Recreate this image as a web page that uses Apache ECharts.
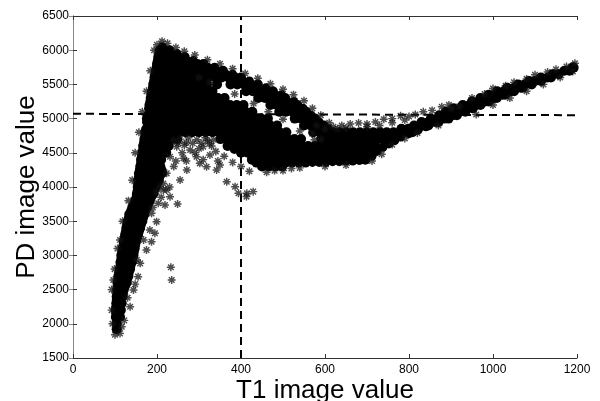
<!DOCTYPE html>
<html>
<head>
<meta charset="utf-8">
<script src="https://cdn.jsdelivr.net/npm/echarts@6/dist/echarts.min.js"></script>
<style>
  html, body { margin: 0; padding: 0; background: #fff; }
  #chart { width: 600px; height: 401px; }
</style>
</head>
<body>
<div id="chart"></div>
<script>
// axis ticks
const xTicks = [0, 200, 400, 600, 800, 1000, 1200];
const yTicks = [1500, 2000, 2500, 3000, 3500, 4000, 4500, 5000, 5500, 6000, 6500];

// dashed threshold lines
const dashV = [[400, 1500], [400, 6500]];
const dashH = [[0, 5070], [1200, 5050]];

// dense core of the rising arm (T1 < 230)
const armPts = [
  [104,1920],[104,2000],[102,2100],[112,2100],[102,2200],[114,2200],
  [103,2300],[116,2300],[104,2400],[118,2400],[105,2500],[121,2500],
  [106,2600],[118,2600],[128,2600],[108,2700],[120,2700],[132,2700],
  [111,2800],[124,2800],[136,2800],[113,2900],[126,2900],[140,2900],
  [115,3000],[128,3000],[144,3000],[118,3100],[132,3100],[147,3100],
  [121,3200],[135,3200],[150,3200],[124,3300],[139,3300],[155,3300],
  [127,3400],[142,3400],[160,3400],[130,3500],[146,3500],[165,3500],
  [134,3600],[150,3600],[170,3600],[141,3700],[157,3700],[176,3700],
  [148,3800],[165,3800],[183,3800],[152,3900],[166,3900],[180,3900],[191,3900],
  [154,4000],[168,4000],[183,4000],[197,4000],
  [155,4100],[170,4100],[186,4100],[204,4100],
  [157,4200],[172,4200],[188,4200],[204,4200],[212,4200]
];

// dense mass between arm, upper band and lower band
const massPts = [
  [160,4300],[176,4300],[192,4300],[208,4300],[450,4300],[466,4300],[482,4300],[498,4300],
  [162,4400],[178,4400],[194,4400],[210,4400],
  [426,4400],[442,4400],[458,4400],[474,4400],[490,4400],[506,4400],[522,4400],[538,4400],
  [554,4400],[570,4400],[586,4400],[602,4400],[618,4400],[634,4400],[650,4400],[666,4400],
  [682,4400],[696,4400],
  [165,4500],[181,4500],[197,4500],[213,4500],[222,4500],
  [400,4500],[416,4500],[432,4500],[448,4500],[464,4500],[480,4500],[496,4500],[512,4500],
  [528,4500],[544,4500],[560,4500],[576,4500],[592,4500],[608,4500],[624,4500],[640,4500],
  [656,4500],[672,4500],[688,4500],[704,4500],
  [167,4600],[183,4600],[199,4600],[215,4600],[228,4600],
  [368,4600],[384,4600],[400,4600],[416,4600],[432,4600],[448,4600],[464,4600],[480,4600],
  [496,4600],[512,4600],[528,4600],[544,4600],[560,4600],[576,4600],[592,4600],[608,4600],
  [624,4600],[640,4600],[656,4600],[672,4600],[688,4600],[704,4600],[720,4600],
  [170,4700],[186,4700],[202,4700],[218,4700],[234,4700],[248,4700],
  [351,4700],[367,4700],[383,4700],[399,4700],[415,4700],[431,4700],[447,4700],[463,4700],
  [479,4700],[495,4700],[511,4700],[527,4700],[543,4700],[591,4700],[607,4700],[623,4700],
  [639,4700],[655,4700],[671,4700],[687,4700],[703,4700],[719,4700],[735,4700],[751,4700],
  [765,4700],
  [172,4800],[188,4800],[204,4800],[220,4800],[236,4800],[252,4800],[268,4800],[284,4800],
  [300,4800],[316,4800],[332,4800],[348,4800],[364,4800],[380,4800],[396,4800],[412,4800],
  [428,4800],[444,4800],[460,4800],[476,4800],[492,4800],[508,4800],
  [572,4800],[588,4800],[604,4800],[620,4800],[635,4800],[651,4800],[667,4800],[683,4800],
  [699,4800],[715,4800],[731,4800],[747,4800],[763,4800],[779,4800],[795,4800],[808,4800],
  [182,4900],[198,4900],[214,4900],[230,4900],[246,4900],[262,4900],[278,4900],[294,4900],
  [310,4900],[326,4900],[342,4900],[358,4900],[374,4900],[390,4900],[406,4900],[422,4900],
  [438,4900],[454,4900],[470,4900],[486,4900],[550,4900],[566,4900],[582,4900],[597,4900],
  [176,5000],[192,5000],[208,5000],[224,5000],[240,5000],[256,5000],[272,5000],[288,5000],
  [304,5000],[320,5000],[336,5000],[352,5000],[368,5000],[384,5000],[400,5000],[416,5000],
  [432,5000],[448,5000],[464,5000],[528,5000],[544,5000],[560,5000],[576,5000],
  [187,5100],[203,5100],[219,5100],[235,5100],[251,5100],[267,5100],[283,5100],[299,5100],
  [315,5100],[331,5100],[347,5100],[363,5100],[379,5100],[395,5100],[411,5100],[427,5100],
  [491,5100],[507,5100],[523,5100],[539,5100],[555,5100],
  [182,5200],[198,5200],[214,5200],[230,5200],[246,5200],[262,5200],[278,5200],[294,5200],
  [310,5200],[326,5200],[342,5200],[358,5200],[374,5200],[390,5200],[406,5200],
  [470,5200],[486,5200],[502,5200],[518,5200],[534,5200],
  [185,5300],[201,5300],[217,5300],[233,5300],[249,5300],[265,5300],[281,5300],[297,5300],
  [313,5300],[329,5300],[345,5300],[361,5300],[441,5300],[457,5300],[473,5300],[489,5300],
  [505,5300],
  [188,5400],[204,5400],[220,5400],[236,5400],[252,5400],[268,5400],[284,5400],[300,5400],
  [316,5400],[332,5400],[412,5400],[428,5400],[444,5400],[460,5400],[476,5400],
  [191,5500],[207,5500],[223,5500],[239,5500],[255,5500],[271,5500],[287,5500],[303,5500],
  [319,5500],[343,5500],[375,5500],[391,5500],[407,5500],[423,5500],[440,5500],
  [194,5600],[210,5600],[226,5600],[242,5600],[258,5600],[274,5600],[290,5600],[306,5600],
  [322,5600],[338,5600],[354,5600],[370,5600],[386,5600],[400,5600],
  [197,5700],[213,5700],[229,5700],[245,5700],[261,5700],[277,5700],[293,5700],[309,5700],
  [325,5700],[341,5700],[357,5700],
  [200,5800],[216,5800],[232,5800],[248,5800],[264,5800],[280,5800],[296,5800],[311,5800],
  [203,5900],[219,5900],[235,5900],[251,5900],[266,5900],
  [206,6000],[218,6000],[230,6000]
];

// rising right band (T1 > 700)
const bandPts = [
  [782,4850],[798,4850],[814,4850],[822,4850],
  [812,4900],[828,4900],[846,4900],
  [830,4950],[846,4950],[862,4950],[870,4950],
  [852,5000],[868,5000],[884,5000],[894,5000],
  [872,5050],[888,5050],[904,5050],[914,5050],
  [888,5100],[904,5100],[920,5100],[934,5100],
  [906,5150],[922,5150],[938,5150],[952,5150],
  [928,5200],[944,5200],[960,5200],[970,5200],
  [950,5250],[966,5250],[982,5250],[990,5250],
  [970,5300],[986,5300],[1002,5300],[1009,5300],
  [990,5350],[1006,5350],[1022,5350],[1029,5350],
  [1010,5400],[1026,5400],[1042,5400],[1050,5400],
  [1034,5450],[1050,5450],[1066,5450],[1071,5450],
  [1060,5500],[1076,5500],[1092,5500],
  [1086,5550],[1100,5550],[1114,5550],
  [1114,5600],[1130,5600],[1138,5600],
  [1142,5650],[1156,5650],
  [1170,5700],[1182,5700],[1190,5750],[1192,5745]
];

// extra dense points smoothing the outlines (half-row steps)
const upperEdge = [
  [213,6050],[248,5950],[232,5950],[286,5850],[270,5850],[337,5750],[321,5750],
  [380,5650],[364,5650],[420,5550],[404,5550],[459,5450],[443,5450],[496,5350],[480,5350],
  [526,5250],[510,5250],[548,5150],[532,5150],[567,5050],[551,5050],[586,4950],[570,4950],
  [608,4850],[592,4850]
];
const leftEdge = [
  [104,2050],[102,2150],[102,2250],[103,2350],[104,2450],[105,2550],[107,2650],[109,2750],
  [112,2850],[114,2950],[116,3050],[119,3150],[122,3250],[125,3350],[128,3450],[132,3550],
  [137,3650],[144,3750],[150,3850],[153,3950],[154,4050],[156,4150],[158,4250],[161,4350],
  [163,4450],[166,4550],[168,4650],[171,4750],[173,4850],[175,4950],[177,5050],[180,5150],
  [183,5250],[186,5350],[189,5450],[192,5550],[195,5650],[198,5750],[201,5850],[204,5950]
];
const armRightEdge = [
  [108,2150],[112,2250],[116,2350],[120,2450],[125,2550],[130,2650],[134,2750],[138,2850],
  [142,2950],[146,3050],[149,3150],[153,3250],[158,3350],[163,3450],[168,3550],[173,3650],
  [180,3750],[187,3850],[194,3950],[200,4050],[207,4150],[212,4250]
];
const lowerEdge = [
  [436,4350],[506,4350],[522,4350],[538,4350],[554,4350],[570,4360],[586,4360],[602,4360],
  [618,4370],[634,4370],[650,4380],[666,4380],[682,4390],[384,4550],
  [712,4450],[724,4520],[738,4580],[752,4630],[766,4680],[780,4730],[800,4780],[820,4830],
  [840,4880]
];

// loose points around the dense regions
const armFringe = [
  [100,1840],[112,1860],[116,1958],[122,2050],[136,2250],[130,2380],[144,2494],[148,2580],
  [155,2689],[160,2884],[152,2933],[175,3079],[168,3225],[187,3200],[195,3323],[183,3371],
  [199,3493],[187,3615],[203,3762],[219,3737],[199,3932],[223,3956],[112,3225],[96,2640],
  [92,2200],[94,2000],[190,3700],[210,3850],[215,4050],[230,4000],
  [92,2500],[99,2800],[106,3100],[118,3500],[132,3800],[141,4100]
];
const strayPts = [
  [249,3751],[233,2826],[235,2640],[366,4077],[386,4005],[394,3908],[414,3908],[429,3932],
  [413,3860],[231,4443],[263,4420],[294,4443],[318,4297],[350,4322],[326,4468],[310,4590],
  [279,4541],[247,4590],[223,4200],[207,4005],[231,3858],[215,3956],[255,4102],[342,4249],
  [302,4346],[271,4249],[240,4300],[260,4500],[285,4640],[330,4600],[360,4450],[380,4360],
  [400,4300],[420,4230],[300,4560],[240,4680],[270,4650],[320,4680],[345,4380],
  [461,4215],[480,4240],[520,4270],
  [255,4700],[275,4720],[295,4690],[315,4720],[335,4690],[305,4640],[265,4610],[250,4640],
  [325,4640],[290,4500],[340,4520],[310,4400],[270,4380],[245,4380]
];
const edgePts = [
  [212,6130],[225,6100],[245,6040],[265,5985],[290,5930],[320,5860],[350,5800],[380,5730],
  [410,5660],[440,5590],[470,5510],[500,5430],[525,5350],[550,5260],[570,5150],[590,5050],
  [610,4940],[630,4850],
  [148,4500],[157,4800],[165,5100],[175,5400],[184,5700],[193,6000],[200,6080]
];
const gapPts = [
  [300,5600],[325,5530],[385,5360],[430,5220],[465,5100],[500,4990],[540,4820],[575,4690]
];
const cloudPts = [
  [600,4850],[620,4880],[640,4900],[660,4920],[680,4935],[700,4920],[720,4950],[740,4990],
  [760,5000],[780,5040],[800,5030],[815,5060],[834,5101],[855,5120],[878,5174],[895,5200],
  [650,4860],[700,4880],[730,4900],[580,4900],[590,4700],[570,4780],[760,4940],[790,4980],
  [950,5300],[980,5360],[1000,5440],[1030,5480],[1050,5530],[1080,5580],[1100,5640],
  [1130,5680],[1150,5720],[1175,5760],[1195,5810],[960,5060],[1000,5200],[1040,5300],
  [1080,5400],[1120,5500],[1160,5600],[1190,5690],[900,5150],[920,5180],[870,4900],
  [820,4790],[790,4710],[760,4620],[735,4480],[712,4380],[650,4320],[600,4300],[540,4280],
  [500,4240]
];

const star = 'path://M-0.9,-5L0.9,-5L0.9,5L-0.9,5Z' +
  'M-5,-0.9L5,-0.9L5,0.9L-5,0.9Z' +
  'M-2.864,-4.136L4.136,2.864L2.864,4.136L-4.136,-2.864Z' +
  'M2.864,-4.136L4.136,-2.864L-2.864,4.136L-4.136,2.864Z';

const fontFam = '"Liberation Sans", Arial, Helvetica, sans-serif';

function dense(data, size) {
  return {
    type: 'scatter', data: data, symbol: 'circle', symbolSize: size || 10,
    itemStyle: { color: '#000', opacity: 1 }, z: 3, silent: true
  };
}
function loose(data) {
  return {
    type: 'scatter', data: data, symbol: star, symbolSize: 8,
    itemStyle: { color: '#111', opacity: 0.75 }, z: 4, silent: true
  };
}
function dashed(data) {
  return {
    type: 'line', data: data, symbol: 'none', z: 1, silent: true,
    lineStyle: { color: '#000', width: 2, type: [8, 5] }
  };
}

const chart = echarts.init(document.getElementById('chart'));
const tickLab = { fontFamily: fontFam, fontSize: 12, color: '#000' };

chart.setOption({
  animation: false,
  backgroundColor: '#fff',
  grid: { left: 73, right: 23, top: 16, bottom: 43, containLabel: false, outerBoundsMode: 'none' },
  xAxis: [{
    type: 'value', min: 0, max: 1200, interval: 200, position: 'bottom',
    name: 'T1 image value', nameLocation: 'middle', nameGap: 20, nameMoveOverlap: false,
    nameTextStyle: { fontFamily: fontFam, fontSize: 26, color: '#000', verticalAlign: 'top' },
    axisLine: { show: true, lineStyle: { color: '#333', width: 1 } },
    axisTick: { show: true, inside: true, length: 4, lineStyle: { color: '#333' } },
    axisLabel: Object.assign({ margin: 6, formatter: v => xTicks.includes(v) ? String(v) : '' }, tickLab),
    splitLine: { show: false }
  }, {
    type: 'value', min: 0, max: 1200, interval: 200, position: 'top',
    axisLine: { show: true, lineStyle: { color: '#333', width: 1 } },
    axisTick: { show: true, inside: true, length: 4, lineStyle: { color: '#333' } },
    axisLabel: { show: false }, splitLine: { show: false }
  }],
  yAxis: [{
    type: 'value', min: 1500, max: 6500, interval: 500, position: 'left',
    name: 'PD image value', nameLocation: 'middle', nameGap: 33, nameMoveOverlap: false,
    nameTextStyle: { fontFamily: fontFam, fontSize: 26, color: '#000' },
    axisLine: { show: true, lineStyle: { color: '#333', width: 1 } },
    axisTick: { show: true, inside: true, length: 4, lineStyle: { color: '#333' } },
    axisLabel: Object.assign({ margin: 4, formatter: v => yTicks.includes(v) ? String(v) : '' }, tickLab),
    splitLine: { show: false }
  }, {
    type: 'value', min: 1500, max: 6500, interval: 500, position: 'right',
    axisLine: { show: true, lineStyle: { color: '#888', width: 1 } },
    axisTick: { show: true, inside: true, length: 4, lineStyle: { color: '#888' } },
    axisLabel: { show: false }, splitLine: { show: false }
  }],
  series: [
    dashed(dashV), dashed(dashH),
    dense(armPts), dense(massPts), dense(bandPts),
    dense(upperEdge, 9), dense(leftEdge, 9), dense(armRightEdge, 9), dense(lowerEdge, 9),
    loose(armFringe), loose(strayPts), loose(edgePts), loose(gapPts), loose(cloudPts)
  ]
});
</script>
</body>
</html>
